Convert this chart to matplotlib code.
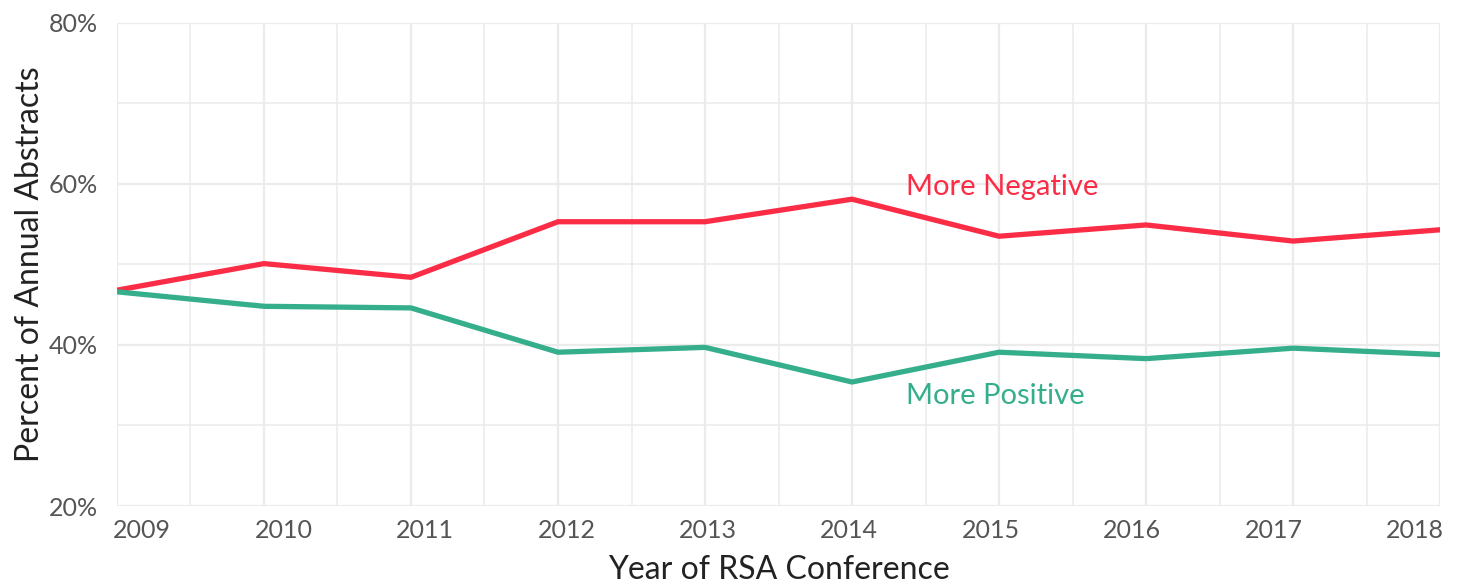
import matplotlib
matplotlib.use("Agg")
import matplotlib.pyplot as plt
import numpy as np

years = [2009, 2010, 2011, 2012, 2013, 2014, 2015, 2016, 2017, 2018]
more_negative = [46.8, 50.1, 48.4, 55.3, 55.3, 58.1, 53.5, 54.9, 52.9, 54.3]
more_positive = [46.6, 44.8, 44.6, 39.1, 39.7, 35.4, 39.1, 38.3, 39.6, 38.8]
y_ticks = [20, 40, 60, 80]

red = '#fb2c46'
green = '#35ae8c'
grid_col = '#ebebeb'

plt.rcParams['font.family'] = ['Lato', 'DejaVu Sans']

fig = plt.figure(figsize=(14.62, 5.85), dpi=100)
ax = fig.add_axes([0.080, 0.135, 0.905, 0.826])

ax.plot(years, more_negative, color=red, lw=3.8, solid_joinstyle='round', zorder=3)
ax.plot(years, more_positive, color=green, lw=3.8, solid_joinstyle='round', zorder=3)

ax.text(2014.37, 59.6, 'More Negative', color=red, fontsize=21, va='center', ha='left')
ax.text(2014.37, 33.7, 'More Positive', color=green, fontsize=21, va='center', ha='left')

ax.set_xlim(2009, 2018)
ax.set_ylim(20, 80)
ax.set_xticks(years)
ax.set_xticks(np.arange(2009.5, 2018, 1), minor=True)
ax.set_yticks(y_ticks)
ax.set_yticks([30, 50, 70], minor=True)
ax.set_yticklabels([f'{v}%' for v in y_ticks])
ax.set_xticklabels([])

# year labels sit slightly inset from the gridlines (evenly spread inside the plot)
n = len(years)
for i, yr in enumerate(years):
    frac = 0.019 + i * (0.962 / (n - 1))
    ax.text(frac, -0.05, str(yr), transform=ax.transAxes, ha='center', va='center',
            fontsize=18, color='#555555')

ax.grid(which='major', color=grid_col, lw=1.6, zorder=0)
ax.grid(which='minor', color=grid_col, lw=1.1, zorder=0)
for s in ax.spines.values():
    s.set_visible(False)
ax.tick_params(which='both', length=0)
ax.tick_params(axis='y', labelsize=18, labelcolor='#555555', pad=14)

ax.set_xlabel('Year of RSA Conference', fontsize=23, color='#222222', labelpad=32)
ax.set_ylabel('Percent of Annual Abstracts', fontsize=23, color='#222222', labelpad=2)

fig.savefig('out.png', dpi=100)
